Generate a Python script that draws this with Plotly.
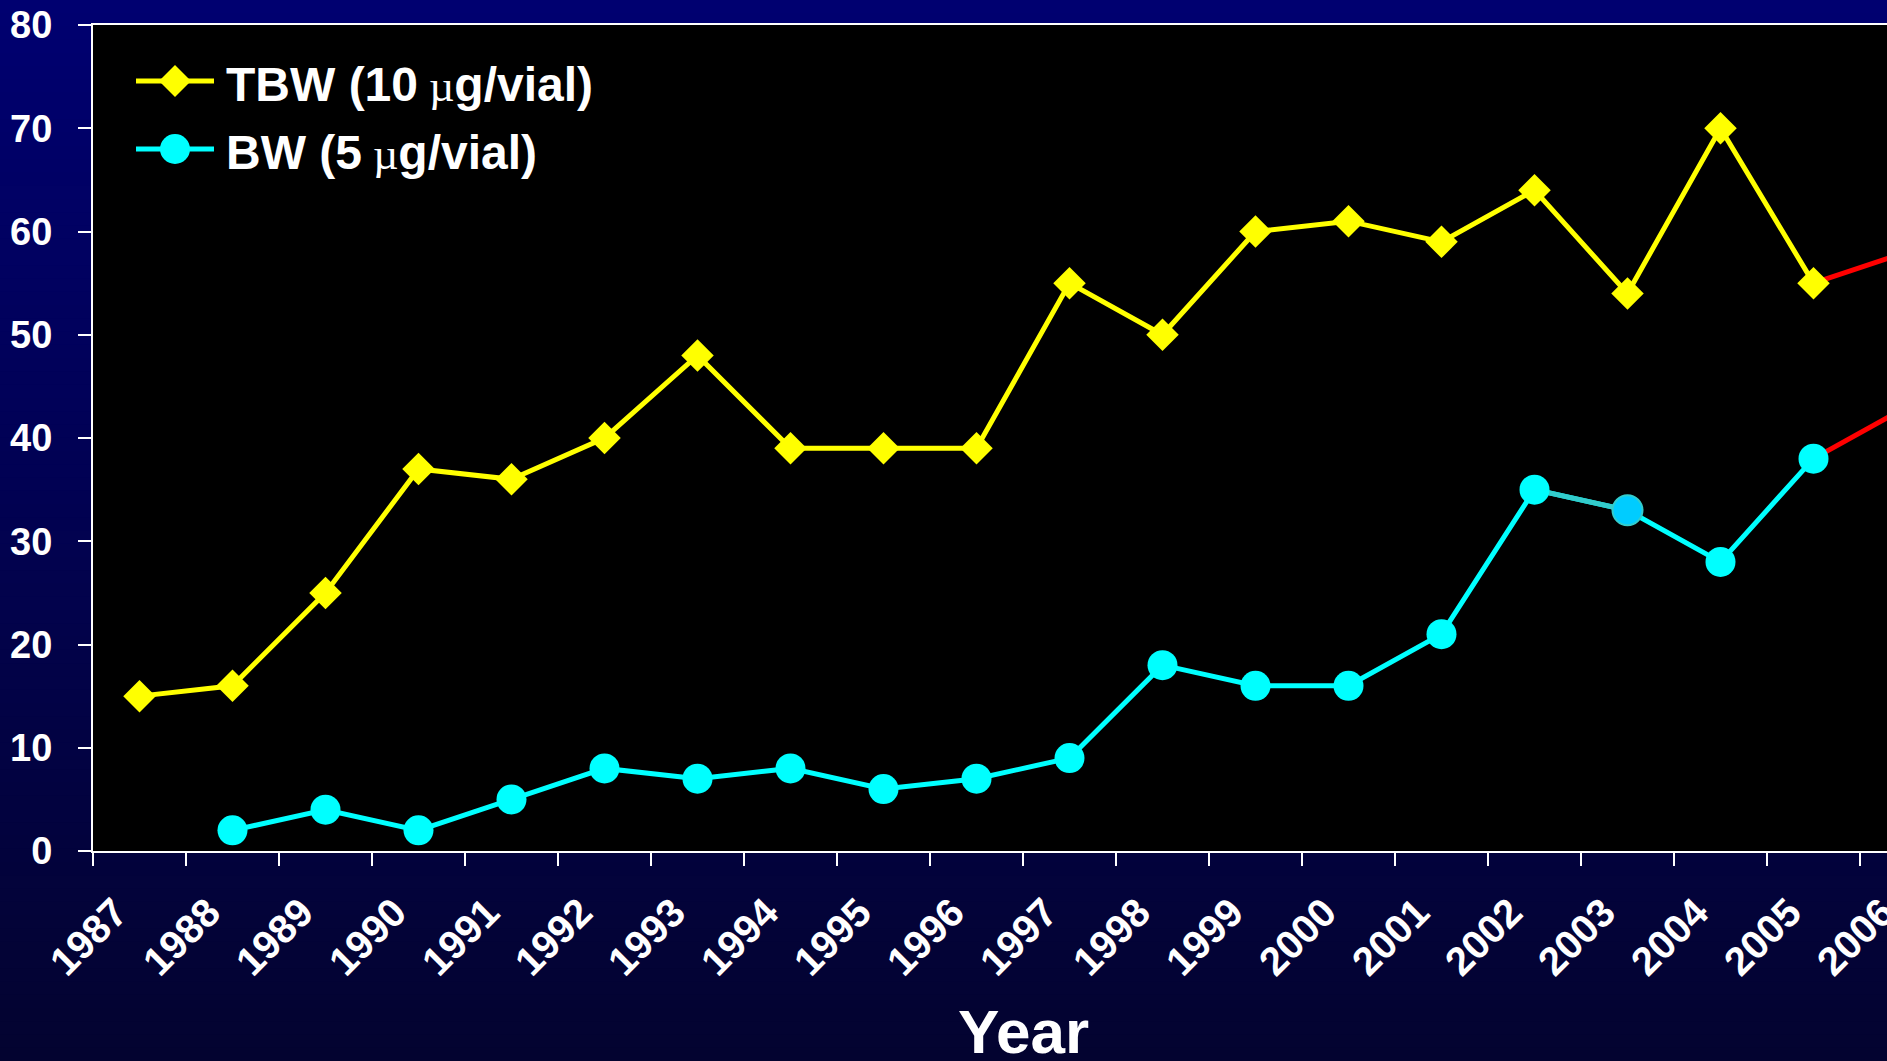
import plotly.graph_objects as go

# ---- data -------------------------------------------------------------
years = ["1987", "1988", "1989", "1990", "1991", "1992", "1993", "1994",
         "1995", "1996", "1997", "1998", "1999", "2000", "2001", "2002",
         "2003", "2004", "2005", "2006"]
tbw = [15, 16, 25, 37, 36, 40, 48, 39, 39, 39, 55, 50, 60, 61, 59, 64, 54, 70, 55, 58]
bw = [None, 2, 4, 2, 5, 8, 7, 8, 6, 7, 9, 18, 16, 16, 21, 35, 33, 28, 38, 43]
y_ticks = [0, 10, 20, 30, 40, 50, 60, 70, 80]
x_title = "Year"
tbw_label = ("TBW (10<span style='font-family:Liberation Serif;font-weight:normal;"
             "font-size:44px'> µ</span>g/vial)")
bw_label = ("BW (5<span style='font-family:Liberation Serif;font-weight:normal;"
            "font-size:44px'> µ</span>g/vial)")
highlight_years = ["2002", "2003"]     # segment drawn in a muted teal
highlight_point = "2003"

# ---- styling ----------------------------------------------------------
FONT = "Liberation Sans"
YELLOW = "#FFFF00"
CYAN = "#00FFFF"
TEAL = "#33CCCC"
SKY = "#00CCFF"
RED = "#FF0000"
LINE_W = 5

W, H = 1953, 1061
ML, MR, MT, MB = 93, 0, 25, 210
PW = W - ML - MR
PH = H - MT - MB


def px_x(px):
    return (px - ML) / PW


def px_y(py):
    return (H - MB - py) / PH


# the final year is an extension shown in red
obs_years = years[:-1]
ext_years = years[-2:]
bw_years = [y for y, v in zip(obs_years, bw[:-1]) if v is not None]
bw_obs = [v for v in bw[:-1] if v is not None]
hi_idx = [years.index(y) for y in highlight_years]

fig = go.Figure()

fig.add_trace(go.Scatter(x=ext_years, y=tbw[-2:], mode="lines",
                         line=dict(color=RED, width=LINE_W), hoverinfo="skip"))
fig.add_trace(go.Scatter(x=ext_years, y=bw[-2:], mode="lines",
                         line=dict(color=RED, width=LINE_W), hoverinfo="skip"))

fig.add_trace(go.Scatter(
    x=obs_years, y=tbw[:-1], mode="lines+markers", name="TBW",
    line=dict(color=YELLOW, width=LINE_W),
    marker=dict(symbol="diamond", size=25, color=YELLOW, line=dict(width=0)),
))

fig.add_trace(go.Scatter(x=bw_years, y=bw_obs, mode="lines", name="BW",
                         line=dict(color=CYAN, width=LINE_W)))
fig.add_trace(go.Scatter(x=[years[i] for i in hi_idx], y=[bw[i] for i in hi_idx],
                         mode="lines", line=dict(color=TEAL, width=LINE_W),
                         hoverinfo="skip"))
fig.add_trace(go.Scatter(
    x=bw_years, y=bw_obs, mode="markers", name="BW",
    marker=dict(
        symbol="circle", size=30,
        color=[SKY if y == highlight_point else CYAN for y in bw_years],
        line=dict(width=[2 if y == highlight_point else 0 for y in bw_years],
                  color=[TEAL if y == highlight_point else CYAN for y in bw_years]),
    ),
))

# ---- background: vertical navy gradient + black plotting area ----------
shapes = []
top_rgb, bot_rgb = (0, 0, 112), (3, 3, 48)
n_strips = 80
for i in range(n_strips):
    t = i / (n_strips - 1)
    c = tuple(round(a + (b - a) * t) for a, b in zip(top_rgb, bot_rgb))
    y0 = H * i / n_strips
    y1 = H * (i + 1) / n_strips + 1
    shapes.append(dict(type="rect", xref="paper", yref="paper", layer="below",
                       x0=px_x(-5), x1=px_x(W + 5), y0=px_y(y1), y1=px_y(y0),
                       fillcolor="rgb(%d,%d,%d)" % c, line=dict(width=0)))
shapes.append(dict(type="rect", xref="paper", yref="paper", layer="below",
                   x0=0, x1=1, y0=0, y1=1, fillcolor="black", line=dict(width=0)))

# ---- legend key ----------------------------------------------------------
key_x0, key_x1, key_cx = 136, 214, 175
rows = [(81, YELLOW, "diamond", tbw_label), (149, CYAN, "circle", bw_label)]
annotations = []
for ky, col, sym, label in rows:
    shapes.append(dict(type="line", xref="paper", yref="paper",
                       x0=px_x(key_x0), x1=px_x(key_x1), y0=px_y(ky), y1=px_y(ky),
                       line=dict(color=col, width=LINE_W)))
    if sym == "diamond":
        r = 16
        path = "M%f,%f L%f,%f L%f,%f L%f,%f Z" % (
            px_x(key_cx - r), px_y(ky), px_x(key_cx), px_y(ky - r),
            px_x(key_cx + r), px_y(ky), px_x(key_cx), px_y(ky + r))
        shapes.append(dict(type="path", xref="paper", yref="paper", path=path,
                           fillcolor=col, line=dict(width=0)))
    else:
        r = 15
        shapes.append(dict(type="circle", xref="paper", yref="paper",
                           x0=px_x(key_cx - r), x1=px_x(key_cx + r),
                           y0=px_y(ky + r), y1=px_y(ky - r),
                           fillcolor=col, line=dict(width=0)))
    annotations.append(dict(text=label, xref="paper", yref="paper",
                            x=px_x(224), y=px_y(ky + 4), xanchor="left", yanchor="middle",
                            showarrow=False,
                            font=dict(family=FONT, size=48, color="white", weight="bold")))

annotations.append(dict(text=x_title, xref="paper", yref="paper", x=0.5,
                        y=px_y(1031), xanchor="center", yanchor="middle",
                        showarrow=False,
                        font=dict(family=FONT, size=62, color="white", weight="bold")))

fig.update_layout(
    width=W, height=H, autosize=False,
    margin=dict(l=ML, r=MR, t=MT, b=MB, pad=0),
    paper_bgcolor="#000060", plot_bgcolor="rgba(0,0,0,0)",
    showlegend=False,
    shapes=shapes, annotations=annotations,
    xaxis=dict(
        type="category", categoryorder="array", categoryarray=years,
        range=[-0.5, len(years) - 0.5],
        tickson="boundaries", ticks="outside", ticklen=13, tickwidth=2,
        tickcolor="white", showline=True, linecolor="white", linewidth=2,
        mirror=True, showgrid=False, zeroline=False, tickangle=-45,
        tickfont=dict(family=FONT, size=40, color="white", weight="bold"),
        ticklabelstandoff=20, ticklabelshift=-24,
    ),
    yaxis=dict(
        range=[0, 80], tickvals=y_ticks, ticks="outside", ticklen=13, tickwidth=2,
        tickcolor="white", showline=True, linecolor="white", linewidth=2,
        showgrid=False, zeroline=False,
        tickfont=dict(family=FONT, size=38, color="white", weight="bold"),
        ticklabelstandoff=18,
    ),
)

# the chart is wider than the window; its right-hand end is cut off by the page
page_js = ("document.body.style.margin='0';"
           "document.body.style.overflow='hidden';"
           "document.documentElement.style.overflow='hidden';"
           "var gd=document.getElementById('{plot_id}');"
           "gd.parentElement.style.overflow='hidden';")

fig.write_html("out.html", config={"displayModeBar": False}, post_script=page_js)
